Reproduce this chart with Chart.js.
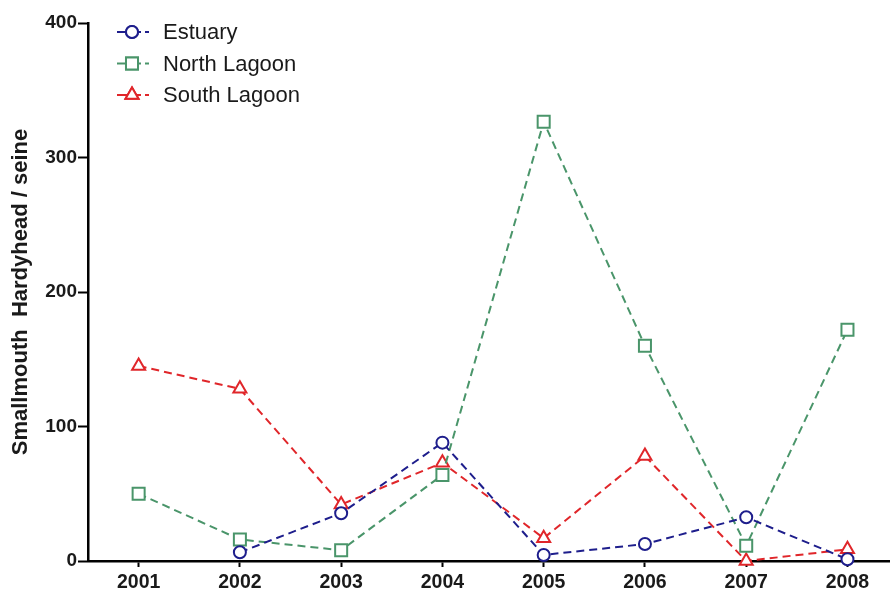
<!DOCTYPE html>
<html>
<head>
<meta charset="utf-8">
<script src="https://cdn.jsdelivr.net/npm/chart.js@4/dist/chart.umd.min.js"></script>
<style>
  html,body{margin:0;padding:0;background:#fff;overflow:hidden;}
  canvas{display:block;}
</style>
</head>
<body>
<canvas id="grafico" width="890" height="589"></canvas>
<script>
// anos e capturas por lance de rede
const anos=[2001,2002,2003,2004,2005,2006,2007,2008];
const estuary=[null,6.5,35.5,88,4.5,12.6,32.5,1.3];
const northLagoon=[50,16,8,64,326.5,160,11.4,172];
const southLagoon=[145,128,42,73,17,78,0,8.7];
const yTicks=[0,100,200,300,400];

const SERIES=[
  {nome:'Estuary',dados:estuary,cor:'#1e1e8c',forma:'circle',raio:6},
  {nome:'North Lagoon',dados:northLagoon,cor:'#4a956a',forma:'rect',raio:8.5},
  {nome:'South Lagoon',dados:southLagoon,cor:'#e0262a',forma:'triangle',raio:7.5},
];

const FONTE='"Liberation Sans", Arial, sans-serif';

// legenda desenhada à mão: traço, marcador, ponto e nome
const legendaManual={
  id:'legendaManual',
  afterDraw(chart){
    const ctx=chart.ctx;
    SERIES.forEach((s,i)=>{
      const y=32+i*31.5;
      ctx.save();
      ctx.strokeStyle=s.cor;ctx.lineWidth=2;
      ctx.beginPath();ctx.moveTo(117,y);ctx.lineTo(141,y);ctx.stroke();
      ctx.beginPath();ctx.moveTo(145,y);ctx.lineTo(149,y);ctx.stroke();
      ctx.fillStyle='#fff';
      Chart.helpers.drawPoint(ctx,{pointStyle:s.forma,radius:s.raio,borderWidth:2,rotation:0},132,y);
      ctx.fill();ctx.stroke();
      ctx.fillStyle='#1a1a1a';
      ctx.font='22px '+FONTE;
      ctx.textBaseline='middle';
      ctx.fillText(s.nome,163,y+1);
      ctx.restore();
    });
  }
};

new Chart(document.getElementById('grafico'),{
  type:'line',
  data:{
    datasets:SERIES.map(s=>({
      label:s.nome,
      data:anos.map((a,i)=>({x:a,y:s.dados[i]})).filter(p=>p.y!==null),
      borderColor:s.cor,
      backgroundColor:'#fff',
      borderWidth:2,
      borderDash:[8,5],
      pointStyle:s.forma,
      pointRadius:s.raio,
      pointBorderWidth:2,
      pointBackgroundColor:'#fff',
      pointBorderColor:s.cor,
      tension:0,
      clip:false,
    }))
  },
  options:{
    responsive:false,animation:false,
    layout:{autoPadding:false,padding:{top:23,right:0,left:0,bottom:0}},
    plugins:{legend:{display:false},tooltip:{enabled:false}},
    scales:{
      x:{
        type:'linear',min:2000.5,max:2008.42,
        afterBuildTicks:s=>{s.ticks=anos.map(v=>({value:v}));},
        afterFit:s=>{s.height=28;s.paddingRight=0;s.paddingLeft=0;},
        border:{display:true,color:'#000',width:2.5},
        grid:{display:true,drawOnChartArea:false,drawTicks:true,tickLength:6,tickWidth:2,tickColor:'#000'},
        ticks:{color:'#1a1a1a',font:{family:FONTE,size:19.5,weight:'bold'},padding:4,callback:v=>String(v),maxRotation:0},
      },
      y:{
        min:0,max:400,
        afterBuildTicks:s=>{s.ticks=yTicks.map(v=>({value:v}));},
        afterFit:s=>{s.width=88;},
        border:{display:true,color:'#000',width:2.5},
        grid:{display:true,drawOnChartArea:false,drawTicks:true,tickLength:10,tickWidth:2,tickColor:'#000'},
        ticks:{color:'#1a1a1a',font:{family:FONTE,size:19,weight:'bold'},padding:1},
        title:{display:true,text:'Smallmouth  Hardyhead / seine',color:'#1a1a1a',font:{family:FONTE,size:22,weight:'bold'},padding:{top:8,bottom:0}},
      }
    }
  },
  plugins:[legendaManual]
});
</script>
</body>
</html>
